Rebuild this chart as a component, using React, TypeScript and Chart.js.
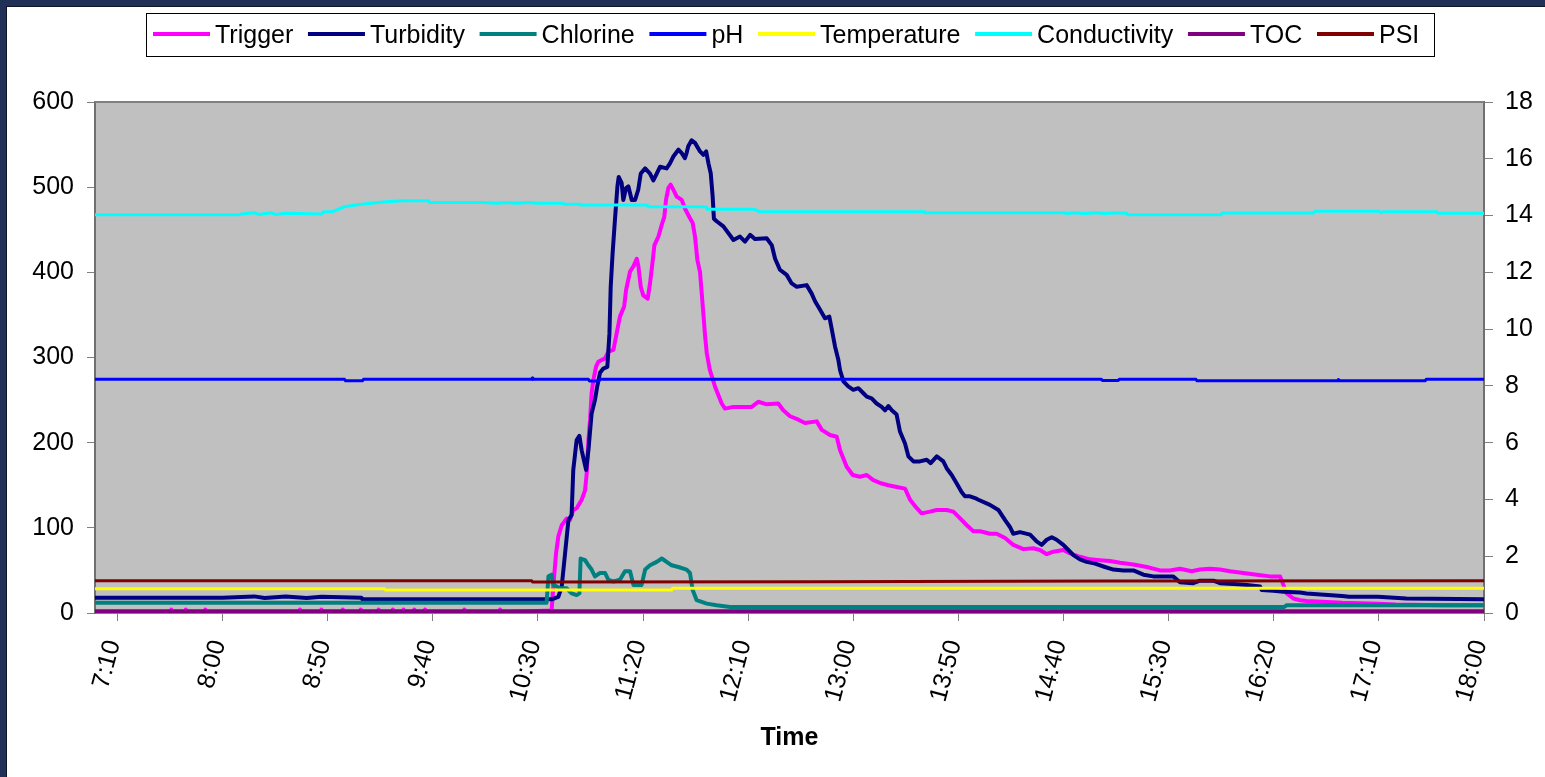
import React, { useEffect, useRef } from "react";
import { Chart, registerables } from "chart.js";

Chart.register(...registerables);

// ---- axis ticks (minutes since midnight) ----
const timeTicks = [430, 480, 530, 580, 630, 680, 730, 780, 830, 880, 930, 980, 1030, 1080];
const timeMin = 419.3;
const timeMax = 1080;

// ---- series (time in minutes since midnight, values) ----
const triggerT = [419, 455, 455.6, 456.4, 462, 462.5, 463.2, 471.3, 471.8, 472.5, 516.3, 516.8, 517.5, 526.5, 527, 527.8, 536.7, 537.2, 538, 545.2, 545.7, 546.4, 553.7, 554.2, 555, 560.5, 561, 561.8, 565.6, 566.1, 566.8, 570.7, 571.2, 571.9, 575.8, 576.3, 577, 594.5, 595, 595.8, 611.5, 612, 612.8, 636.5, 637.3, 638.6, 639.7, 641.3, 643.7, 645.2, 646.8, 648.4, 650.8, 652.4, 653.2, 654, 654.8, 655.5, 656.4, 657.6, 658.7, 660.3, 661.9, 663.5, 665.9, 667.4, 669, 671, 671.9, 673.8, 675.4, 677, 677.8, 678.9, 680.1, 682.2, 683.3, 684.6, 685.4, 687.3, 688.9, 690.1, 690.9, 692, 693.1, 694.4, 696, 698.4, 699.9, 702, 703.6, 704.7, 705.8, 707.1, 708.4, 709.5, 710.3, 711.8, 714.2, 715.8, 717.4, 719, 723, 727, 731.7, 734.8, 738.8, 744.3, 746.7, 749.9, 753.9, 757, 762.6, 765, 768.9, 772.1, 773.7, 776.8, 779.7, 783.2, 786.4, 789.5, 793.5, 796.7, 800.6, 804.6, 807, 810.2, 812.5, 816.5, 819.7, 824.4, 827.6, 830.8, 834, 837.1, 840.3, 845, 848.2, 852.2, 856.1, 860.9, 865.6, 868.8, 872, 875.2, 879.9, 883.1, 887.8, 892.6, 897.4, 902.1, 906.9, 913.2, 919.6, 925.9, 930.6, 935.4, 941, 944.9, 949.7, 954.4, 959.2, 965.5, 971.9, 978.2, 983, 984.6, 986.2, 989.3, 992.5, 995.6, 1012.5, 1029.5, 1038, 1060, 1080];
const triggerV = [1, 1, 4, 1, 1, 4, 1, 1, 4, 1, 1, 4, 1, 1, 4, 1, 1, 4, 1, 1, 4, 1, 1, 4, 1, 1, 4, 1, 1, 4, 1, 1, 4, 1, 1, 4, 1, 1, 4, 1, 1, 4, 1, 3, 31, 70, 90, 103, 111, 109, 121, 123, 133, 144, 164, 203, 227, 258, 274, 289, 295, 297, 299, 307, 309, 328, 348, 360, 379, 401, 407, 416, 407, 383, 373, 369, 387, 414, 432, 442, 456, 465, 485, 499, 503, 497, 489, 485, 475, 465, 458, 442, 415, 400, 360, 325, 305, 285, 266, 256, 246, 240, 242, 242, 242, 248, 245, 246, 238, 231, 227, 223, 225, 215, 209, 207, 191, 172, 162, 160, 162, 156, 152, 150, 148, 146, 133, 123, 117, 119, 121, 121, 119, 111, 103, 96, 96, 93, 93, 88, 80, 75, 76, 74, 69, 72, 74, 70, 66, 63, 62, 61, 59, 57, 54, 50, 50, 52, 49, 51, 52, 51, 49, 47, 45, 43, 43, 33, 23, 17, 15, 14, 12, 11, 10, 9, 9];

const turbidityT = [419, 480, 495, 500, 510, 520, 527, 546, 546.5, 636, 636.5, 639.7, 641.3, 642.9, 644.5, 646, 646.8, 648.4, 649.7, 650.8, 652.9, 654, 655.5, 657.1, 658.2, 659.5, 661.1, 663, 664, 664.6, 665.5, 666.6, 667.8, 668.4, 669.8, 670.6, 671.9, 673, 674.6, 676.2, 677.7, 678.9, 681, 683.3, 684.9, 686.5, 688.1, 691.2, 692.8, 694.4, 696.8, 698.4, 699.9, 700.7, 701.5, 703.1, 704.7, 707.1, 708.7, 710, 711.1, 712.2, 713.1, 713.7, 715, 718.2, 723, 726.1, 728.5, 730.9, 733.2, 738.8, 741.2, 742.8, 745.1, 748.3, 750.7, 753.1, 757.8, 760.2, 761.8, 764.2, 766.5, 768.6, 769.7, 771.3, 772.9, 773.7, 775.3, 777.6, 780, 782.4, 784.8, 786.4, 788.7, 791.1, 793.5, 795.1, 796.7, 798.3, 800.6, 802.2, 804.6, 806.2, 808.6, 811.7, 814.9, 816.8, 819.7, 822.8, 824.4, 826.8, 829.2, 831.5, 833.1, 835.5, 837.9, 839.5, 845, 849, 852.2, 854.5, 856.1, 859.3, 864.1, 867.2, 869.6, 872, 874.4, 876.7, 879.9, 882.3, 884.7, 887.8, 891, 895, 899.7, 903.7, 908.5, 913.2, 918, 922.7, 932.2, 935.4, 941.7, 944.9, 951.3, 954.4, 960.8, 967.1, 973.5, 974.3, 979.8, 984.6, 992.5, 995.6, 1012.5, 1015.9, 1029.5, 1043.1, 1080];
const turbidityV = [18, 18, 19.5, 17.5, 19.5, 17.5, 19, 18, 16, 16, 16, 19, 31, 70, 109, 115, 168, 203, 208, 191, 168, 191, 234, 250, 266, 282, 287, 289, 328, 383, 422, 461, 501, 512, 505, 485, 499, 501, 485, 485, 497, 516, 522, 516, 508, 516, 524, 522, 528, 536, 544, 540, 534, 540, 548, 555, 552, 542, 538, 542, 528, 516, 489, 463, 460, 454, 438, 442, 436, 444, 439, 440, 432, 416, 403, 397, 387, 383, 385, 375, 366, 356, 346, 348, 334, 313, 297, 285, 272, 266, 262, 264, 258, 254, 252, 246, 242, 238, 243, 238, 233, 213, 199, 184, 178, 178, 180, 176, 184, 178, 170, 162, 152, 142, 137, 137, 135, 133, 127, 121, 109, 101, 93, 95, 92, 84, 80, 86, 89, 86, 80, 74, 68, 63, 60, 58, 54, 51, 50, 50, 45, 43, 43, 36, 35, 38, 38, 35, 34, 33, 31, 27, 26, 25, 24, 23, 20, 19, 19, 17, 16];

const chlorineT = [419, 634.1, 635, 636.5, 637.3, 640.5, 643.7, 646, 648.4, 649.7, 650.3, 652.4, 654, 655.5, 657.1, 659.5, 661.9, 663.5, 665.9, 669, 671.4, 673.8, 675.4, 679.3, 681, 683.3, 686.5, 688.9, 691.2, 693.6, 696.8, 700.7, 702.3, 703.6, 705.5, 710.3, 715, 721.4, 985, 986, 1080];
const chlorineV = [0.36, 0.36, 1.29, 1.35, 0.99, 0.87, 0.87, 0.69, 0.63, 0.69, 1.92, 1.86, 1.68, 1.53, 1.29, 1.41, 1.41, 1.17, 1.11, 1.17, 1.47, 1.47, 0.99, 0.99, 1.53, 1.68, 1.8, 1.92, 1.8, 1.68, 1.62, 1.53, 1.41, 0.81, 0.45, 0.33, 0.27, 0.21, 0.21, 0.27, 0.27];

const phT = [419, 538, 538.5, 546.5, 547, 627, 627.3, 627.6, 654, 654.5, 659, 659.5, 898, 898.5, 906, 906.5, 943, 943.5, 1010.4, 1010.7, 1011, 1052, 1052.5, 1080];
const phV = [8.23, 8.23, 8.18, 8.18, 8.23, 8.23, 8.28, 8.23, 8.23, 8.17, 8.17, 8.23, 8.23, 8.19, 8.19, 8.23, 8.23, 8.18, 8.18, 8.22, 8.18, 8.18, 8.23, 8.23];

const temperatureT = [419, 557, 557.5, 693.6, 694, 1080];
const temperatureV = [28.5, 28.5, 27, 27, 29, 29];

const conductivityT = [419, 488, 489, 495, 497, 503, 505, 510, 527, 528, 532, 538, 544, 550.6, 558, 565.6, 578, 578.5, 604, 610, 615, 620, 625, 630, 642, 642.5, 650, 650.5, 682, 682.5, 710, 710.5, 733, 735.6, 813.8, 814, 880, 882, 885, 890, 895, 900, 905, 910, 910.5, 955, 955.5, 999, 999.5, 1030, 1031, 1032, 1057.6, 1058, 1080];
const conductivityV = [467.7, 467.7, 468.5, 470, 468, 470, 468, 469.5, 468.5, 471, 471, 477, 479.4, 481, 483, 484, 484, 482, 482, 481, 482, 481, 482, 481, 481, 480, 480, 479, 479, 477, 477, 474, 474, 471, 471, 470, 470, 469, 470, 469, 470, 469, 470, 469.5, 467.7, 467.7, 469.6, 469.6, 471.7, 471.7, 470, 471, 471, 469.5, 469.5];

const tocT = [419, 1080];
const tocV = [2, 2];

const psiT = [419, 627, 627.5, 760, 900, 1080];
const psiV = [37.8, 37.8, 36.3, 36.8, 37.5, 37.8];

const seriesNames = ["Trigger", "Turbidity", "Chlorine", "pH", "Temperature", "Conductivity", "TOC", "PSI"];
const seriesColors = ["#FF00FF", "#000080", "#008080", "#0000FF", "#FFFF00", "#00FFFF", "#800080", "#800000"];
const seriesWidths = [4, 4, 4, 3, 3, 3, 4, 3];
const seriesAxes = ["y", "y", "y1", "y1", "y", "y", "y", "y"];

const FONT = '"Liberation Sans", Arial, Helvetica, sans-serif';

const pts = (t: number[], v: number[]) => t.map((x, i) => ({ x, y: v[i] }));

const fmtTime = (m: number) => {
  const h = Math.floor(m / 60);
  const mm = Math.round(m - h * 60);
  return `${h}:${String(mm).padStart(2, "0")}`;
};

const plotBgPlugin = {
  id: "plotBg",
  beforeDraw(chart: any) {
    const { ctx, chartArea } = chart;
    ctx.save();
    ctx.fillStyle = "#C0C0C0";
    ctx.fillRect(chartArea.left, chartArea.top, chartArea.right - chartArea.left, chartArea.bottom - chartArea.top);
    ctx.restore();
  },
  afterDraw(chart: any) {
    const { ctx, chartArea } = chart;
    ctx.save();
    ctx.strokeStyle = "#808080";
    ctx.lineWidth = 2;
    ctx.beginPath();
    ctx.moveTo(chartArea.left, chartArea.top);
    ctx.lineTo(chartArea.right, chartArea.top);
    ctx.stroke();
    ctx.restore();
  },
};

const boxLegendPlugin = {
  id: "boxLegend",
  afterDraw(chart: any) {
    const { ctx, chartArea } = chart;
    ctx.save();
    ctx.font = `25px ${FONT}`;
    const items = chart.data.datasets.map((ds: any) => ({
      label: ds.label as string,
      color: ds.borderColor as string,
      w: ctx.measureText(ds.label).width,
    }));
    const SAMPLE = 57, GAP = 5, ITEM_GAP = 14.7, PADL = 7, PADR = 15;
    const content = items.reduce((s: number, it: any) => s + SAMPLE + GAP + it.w, 0) + ITEM_GAP * (items.length - 1);
    const boxW = Math.round(content + PADL + PADR);
    const cx = (chartArea.left + chartArea.right) / 2;
    const boxL = Math.round(cx - boxW / 2);
    const boxT = 6;
    const boxH = 43;
    ctx.fillStyle = "#FFFFFF";
    ctx.fillRect(boxL, boxT, boxW, boxH);
    ctx.strokeStyle = "#000000";
    ctx.lineWidth = 1;
    ctx.strokeRect(boxL + 0.5, boxT + 0.5, boxW, boxH);
    let x = boxL + PADL;
    for (const it of items) {
      ctx.strokeStyle = it.color;
      ctx.lineWidth = 4;
      ctx.beginPath();
      ctx.moveTo(x, 27);
      ctx.lineTo(x + SAMPLE, 27);
      ctx.stroke();
      x += SAMPLE + GAP;
      ctx.fillStyle = "#000000";
      ctx.textBaseline = "alphabetic";
      ctx.textAlign = "left";
      ctx.fillText(it.label, x, 36);
      x += it.w + ITEM_GAP;
    }
    ctx.restore();
  },
};

export default function App() {
  const canvasRef = useRef<HTMLCanvasElement | null>(null);

  useEffect(() => {
    const canvas = canvasRef.current;
    if (!canvas) return;
    const allT = [triggerT, turbidityT, chlorineT, phT, temperatureT, conductivityT, tocT, psiT];
    const allV = [triggerV, turbidityV, chlorineV, phV, temperatureV, conductivityV, tocV, psiV];
    const datasets = seriesNames.map((name, i) => ({
      label: name,
      data: pts(allT[i], allV[i]),
      borderColor: seriesColors[i],
      backgroundColor: seriesColors[i],
      borderWidth: seriesWidths[i],
      pointRadius: 0,
      pointHoverRadius: 0,
      tension: 0,
      fill: false,
      yAxisID: seriesAxes[i],
      order: seriesNames.length - 1 - i,
      borderJoinStyle: "round" as const,
      borderCapStyle: "butt" as const,
    }));

    const tickFont = { family: FONT, size: 25 };
    const chart = new Chart(canvas, {
      type: "line",
      data: { datasets },
      options: {
        animation: false,
        responsive: false,
        devicePixelRatio: 1,
        events: [],
        layout: { padding: { top: 95, left: 0, right: 0, bottom: 24 } },
        plugins: {
          legend: { display: false },
          tooltip: { enabled: false },
        },
        scales: {
          x: {
            type: "linear",
            min: timeMin,
            max: timeMax,
            afterBuildTicks: (scale: any) => {
              scale.ticks = timeTicks.map((v) => ({ value: v }));
            },
            afterFit: (scale: any) => {
              scale.height = 140;
            },
            ticks: {
              callback: (v: any) => fmtTime(Number(v)),
              autoSkip: false,
              minRotation: 75,
              maxRotation: 75,
              padding: 16,
              labelOffset: -4,
              color: "#000000",
              font: tickFont,
            },
            grid: { drawOnChartArea: false, drawTicks: true, tickLength: 8, color: "#808080", lineWidth: 1 },
            border: { display: true, color: "#808080", width: 2 },
            title: {
              display: true,
              text: "Time",
              color: "#000000",
              font: { family: FONT, size: 25, weight: "bold" },
              padding: { top: 0, bottom: 0 },
            },
          },
          y: {
            type: "linear",
            position: "left",
            min: 0,
            max: 600,
            afterFit: (scale: any) => {
              scale.width = 88;
            },
            ticks: { stepSize: 100, padding: 13, color: "#000000", font: tickFont },
            grid: { drawOnChartArea: false, drawTicks: true, tickLength: 8, color: "#808080" },
            border: { display: true, color: "#707070", width: 2 },
          },
          y1: {
            type: "linear",
            position: "right",
            min: 0,
            max: 18,
            afterFit: (scale: any) => {
              scale.width = 61;
            },
            ticks: { stepSize: 2, padding: 12, color: "#000000", font: tickFont },
            grid: { drawOnChartArea: false, drawTicks: true, tickLength: 9, color: "#808080" },
            border: { display: true, color: "#707070", width: 2 },
          },
        },
      } as any,
      plugins: [plotBgPlugin, boxLegendPlugin],
    });
    return () => chart.destroy();
  }, []);

  return (
    <div
      style={{
        position: "fixed",
        left: 0,
        top: 0,
        width: 1545,
        height: 777,
        background: "#FFFFFF",
        overflow: "hidden",
      }}
    >
      <div style={{ position: "absolute", left: 0, top: 0, width: 1545, height: 6, background: "#213056" }} />
      <div style={{ position: "absolute", left: 0, top: 0, width: 6, height: 777, background: "#213056" }} />
      <div style={{ position: "absolute", left: 6, top: 6, width: 1539, height: 1, background: "#0E1426" }} />
      <div style={{ position: "absolute", left: 6, top: 6, width: 1, height: 771, background: "#0E1426" }} />
      <canvas
        ref={canvasRef}
        width={1538}
        height={770}
        style={{ position: "absolute", left: 7, top: 7, width: 1538, height: 770, display: "block" }}
      />
    </div>
  );
}
